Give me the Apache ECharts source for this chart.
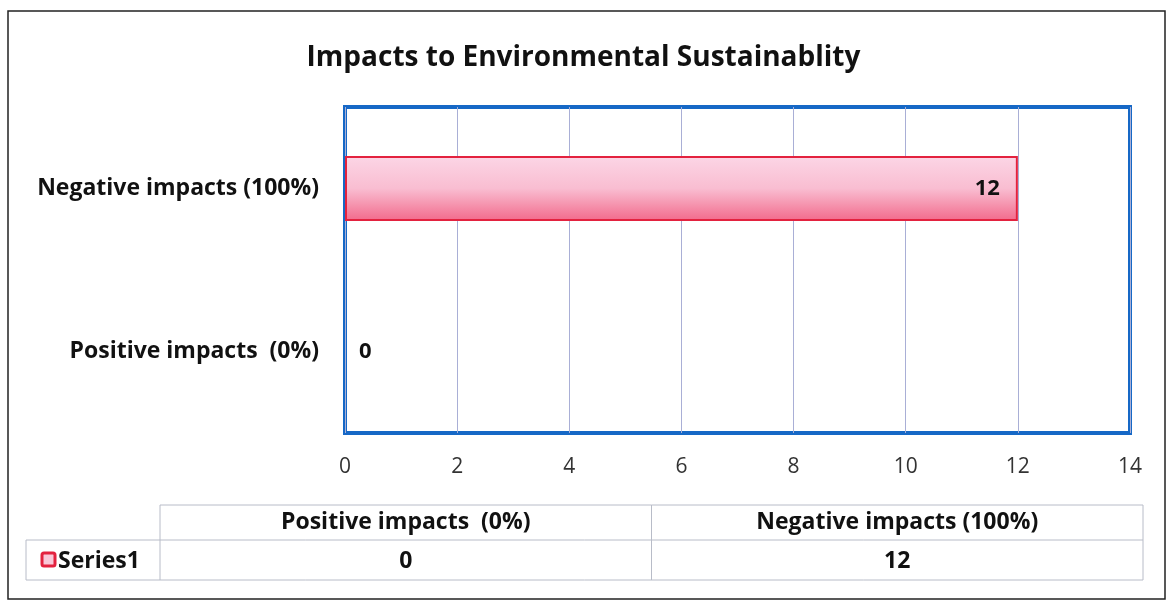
<!DOCTYPE html>
<html>
<head>
<meta charset="utf-8">
<script src="https://cdn.jsdelivr.net/npm/echarts@6/dist/echarts.min.js"></script>
<style>
  html, body { margin: 0; padding: 0; background: #fff; }
  #chart { width: 1167px; height: 602px; }
</style>
</head>
<body>
<div id="chart"></div>
<script>
// Chart data
const titleText = 'Impacts to Environmental Sustainablity';
const seriesName = 'Series1';
const categories = ['Positive impacts  (0%)', 'Negative impacts (100%)'];
const values = [0, 12];
const xTicks = [0, 2, 4, 6, 8, 10, 12, 14];

const FONT = '"Open Sans", Lato, sans-serif';
const chart = echarts.init(document.getElementById('chart'), null, { renderer: 'canvas' });

// Data table under the plot (header row = categories, body row = values)
const tbl = { left: 26, colStart: 160, colEnd: 1143, top: 505, mid: 540, bottom: 580 };
const colW = (tbl.colEnd - tbl.colStart) / categories.length;
const lineStyle = { stroke: '#b8bcc8', lineWidth: 1 };
const cellFont = 'bold 23px ' + FONT;
const tableEls = [];
// horizontal rules
tableEls.push({ type: 'line', shape: { x1: tbl.colStart, y1: tbl.top, x2: tbl.colEnd, y2: tbl.top }, style: lineStyle });
tableEls.push({ type: 'line', shape: { x1: tbl.left, y1: tbl.mid, x2: tbl.colEnd, y2: tbl.mid }, style: lineStyle });
tableEls.push({ type: 'line', shape: { x1: tbl.left, y1: tbl.bottom, x2: tbl.colEnd, y2: tbl.bottom }, style: lineStyle });
// vertical rules
tableEls.push({ type: 'line', shape: { x1: tbl.left, y1: tbl.mid, x2: tbl.left, y2: tbl.bottom }, style: lineStyle });
for (let i = 0; i <= categories.length; i++) {
  const x = tbl.colStart + i * colW;
  tableEls.push({ type: 'line', shape: { x1: x, y1: tbl.top, x2: x, y2: tbl.bottom }, style: lineStyle });
}
categories.forEach((c, i) => {
  const cx = tbl.colStart + (i + 0.5) * colW;
  tableEls.push({ type: 'text', x: cx, y: (tbl.top + tbl.mid) / 2,
    style: { text: c, font: cellFont, fill: '#111', align: 'center', verticalAlign: 'middle' } });
  tableEls.push({ type: 'text', x: cx, y: (tbl.mid + tbl.bottom) / 2 + 1,
    style: { text: String(values[i]), font: cellFont, fill: '#111', align: 'center', verticalAlign: 'middle' } });
});
// legend key + series name
tableEls.push({ type: 'rect', shape: { x: 42, y: 553, width: 13, height: 13, r: 2 },
  style: { fill: '#f9c8d8', stroke: '#e3223f', lineWidth: 3 } });
tableEls.push({ type: 'text', x: 58, y: (tbl.mid + tbl.bottom) / 2 + 1,
  style: { text: seriesName, font: cellFont, fill: '#111', align: 'left', verticalAlign: 'middle' } });

const barFill = new echarts.graphic.LinearGradient(0, 0, 0, 1, [
  { offset: 0, color: '#fcd6e6' },
  { offset: 0.5, color: '#f9bdd1' },
  { offset: 1, color: '#f26a8b' }
]);

chart.setOption({
  animation: false,
  backgroundColor: '#fff',
  title: {
    text: titleText,
    left: 'center',
    top: 39,
    textStyle: { fontFamily: FONT, fontSize: 28, fontWeight: 'bold', color: '#111' }
  },
  grid: {
    left: 345, top: 107, width: 785, height: 326,
    show: true, borderColor: '#1668c6', borderWidth: 4, backgroundColor: 'transparent'
  },
  xAxis: {
    type: 'value',
    min: xTicks[0],
    max: xTicks[xTicks.length - 1],
    interval: xTicks[1] - xTicks[0],
    axisLine: { show: false },
    axisTick: { show: false },
    splitLine: { show: true, lineStyle: { color: '#a9afd6', width: 1 } },
    axisLabel: { fontFamily: FONT, fontSize: 21, color: '#333', margin: 24 }
  },
  yAxis: {
    type: 'category',
    data: categories,
    axisLine: { show: false },
    axisTick: { show: false },
    splitLine: { show: false },
    axisLabel: { fontFamily: FONT, fontSize: 23, fontWeight: 'bold', color: '#111', margin: 26 }
  },
  series: [{
    name: seriesName,
    type: 'bar',
    barWidth: 65,
    data: values.map(v => ({
      value: v,
      itemStyle: v > 0 ? undefined : { borderWidth: 0 },
      label: v > 0
        ? { show: true, position: 'insideRight', distance: 18 }
        : { show: true, position: 'right', distance: 14 }
    })),
    itemStyle: { color: barFill, borderColor: '#e3223f', borderWidth: 2 },
    label: { fontFamily: FONT, fontSize: 22, fontWeight: 'bold', color: '#111' }
  }],
  graphic: [
    { type: 'rect', shape: { x: 8, y: 11, width: 1157, height: 588 },
      style: { fill: 'none', stroke: '#222', lineWidth: 1.5 }, z: 100 },
    ...tableEls
  ]
});
</script>
</body>
</html>
